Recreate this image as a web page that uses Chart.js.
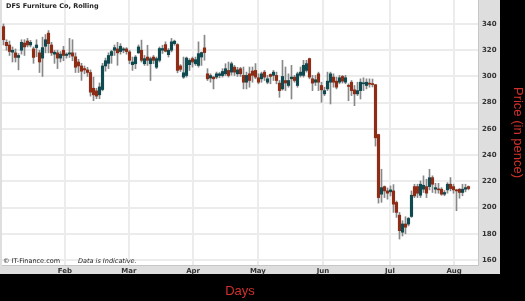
<!DOCTYPE html>
<html>
<head>
<meta charset="utf-8">
<script src="https://cdn.jsdelivr.net/npm/chart.js@4.4.0/dist/chart.umd.min.js"></script>
<style>
  html, body { margin: 0; padding: 0; background: #000; }
  canvas { display: block; }
</style>
</head>
<body>
<canvas id="chart" width="525" height="301"></canvas>
<script>
// daily candles (pence)
const opens = [338, 326, 324, 318.5, 318, 314.5, 320, 325.5, 327, 324, 321, 322, 318, 314, 323, 333, 324, 317, 318, 314,
   320, 316, 317, 318, 315, 311, 308, 306, 305, 303, 291, 289, 286, 290, 308, 310, 316, 320, 321, 319,
   320, 321, 318.7, 309, 309.7, 318, 320, 309.7, 314.8, 309.7, 314.8, 307, 312.3, 320, 324.3, 316.6, 320, 325, 324.3, 308,
   299.5, 300.7, 309, 313.6, 309.7, 308.4, 314.8, 321.8, 302, 298.8, 299.5, 299.5, 300.7, 300.7, 302, 304.6, 303.3, 307.1, 302, 305.9,
   300.8, 295.6, 302, 304.1, 304.6, 299, 298.2, 303.3, 295.6, 301.5, 300.8, 300.8, 294.9, 290.5, 296.9, 293.1, 298.2, 299.5, 293.1, 300.8,
   300.8, 304.6, 313.6, 298.2, 295.6, 302, 293.1, 286.7, 290.5, 295.6, 299.5, 296.4, 295.6, 300, 295.6, 293.1, 295.6, 289.8, 286.7, 289.2,
   294.4, 293.1, 294.9, 294, 293.7, 255.7, 210.2, 216, 212.7, 212, 212.7, 203.9, 194.2, 181.2, 187.5, 187.4, 193.2, 216, 216, 209.4,
   214, 216, 216, 222.8, 214, 214, 214, 210.2, 213.5, 217.8, 216, 213.5, 214, 211.5, 214, 216];
const highs = [340, 328, 327, 322.5, 321, 317.5, 328, 328, 329, 327.5, 322.5, 328, 320, 330, 332, 335, 326, 320, 320, 319,
   323, 318, 329, 328, 318, 313, 310, 308, 307, 305, 299.5, 291, 295, 310, 314, 318, 320, 324, 326, 325,
   322, 322, 320, 314.8, 316, 324, 327.7, 316, 323.8, 314.8, 316, 314.8, 322.5, 323.8, 326.4, 321.3, 329, 327.7, 325, 309,
   314.8, 314.8, 313.6, 314.8, 314.8, 326.4, 318.7, 331.5, 305.9, 302, 300, 303.3, 303, 305.9, 309.7, 311, 311, 308.4, 307, 307,
   307.2, 303.3, 307.2, 307.2, 309.8, 302, 303.3, 304.6, 300.8, 302, 304.6, 303.3, 296.9, 312.3, 307.2, 302, 308.5, 300.8, 303.3, 307.2,
   312.3, 312.3, 314, 300.8, 300.8, 303.3, 295.6, 291.8, 303.3, 303.3, 302, 299.5, 300.8, 300.8, 300.8, 294.4, 296.9, 293.1, 295.6, 298.2,
   299, 298.2, 298.2, 298, 294, 256, 229.2, 216.5, 215, 216.5, 217.5, 205, 196.3, 190, 193, 192.5, 212.7, 217.8, 217.8, 220.3,
   224.2, 221.6, 229.2, 224.2, 218.5, 218.5, 215.2, 213, 219, 222.9, 217.8, 214, 214.5, 217.8, 217.8, 216.5];
const lows = [324, 320, 316, 311, 311, 305, 317, 316, 322.5, 322.5, 310, 315, 303, 300, 318, 318, 316, 310, 306, 311,
   312, 314, 314.5, 312, 303, 303, 297, 302, 300, 285, 281.5, 283, 283, 289, 304, 306, 310, 316, 308.5, 317,
   318, 317, 309.7, 304.6, 305.9, 317.5, 311, 308.4, 308.4, 296.9, 309.7, 305.9, 311, 317.5, 318.7, 314.8, 318.7, 323.8, 302.8, 303.8,
   298.5, 299.5, 304.6, 307.1, 308.4, 307.1, 308.4, 312.3, 296.9, 295.6, 290.5, 298.2, 299, 299.5, 300.7, 299.5, 301, 300.7, 300, 300,
   290.5, 290.5, 291.8, 295.6, 298.2, 294.4, 295.6, 296.9, 294.4, 294.4, 296.9, 294.4, 284.1, 289.5, 289.2, 291.8, 282.8, 295.6, 291.8, 299.5,
   299.5, 303.3, 298.2, 289.2, 293.1, 289.2, 280.3, 285.4, 289.2, 279, 291.8, 290.5, 294.4, 294.9, 294.4, 281.5, 285.4, 277.7, 285.4, 282.8,
   289.2, 290.5, 291.8, 292, 246.9, 203.4, 204, 207.6, 206.4, 208.9, 196.3, 192.5, 176, 178.3, 180, 186, 192.5, 207.6, 207.6, 207.6,
   211.5, 207.6, 213.5, 211.5, 210.9, 210.9, 209.4, 209, 211, 212.7, 210.9, 197.6, 207.1, 209, 212, 213.5];
const closes = [328, 323.5, 319, 320, 314.5, 316, 326, 322.5, 324, 326, 314.5, 324, 311, 322, 328, 325, 318, 318.5, 314, 317,
   316, 317, 318, 315.5, 307, 308, 304, 305, 303, 288, 286, 285, 292, 308, 312, 316, 319, 322, 318, 323,
   321, 319, 312.3, 311, 314.8, 322.5, 312.3, 313.6, 312.3, 313.6, 312.3, 313.6, 321.3, 321.3, 319.2, 320, 326.4, 326.9, 304.6, 305.4,
   302.8, 314, 312.3, 311, 312.8, 317.4, 318.2, 318.2, 298.2, 300.7, 298.2, 302, 302, 303.8, 305.9, 300.7, 309.7, 303.3, 305, 302,
   295.6, 300.8, 296.9, 300.8, 299.5, 295.6, 302, 299.5, 298.2, 300, 303.3, 296.9, 289.2, 300, 295, 296.9, 299.5, 296.9, 302, 303.3,
   308.5, 309.8, 299.5, 294.9, 297.5, 295.6, 289.8, 289.2, 296.4, 302, 295.6, 291.8, 299, 296.4, 299, 292.4, 289.2, 286.7, 289.2, 295.6,
   294.6, 295.6, 294.1, 293.8, 253.2, 207.6, 215.2, 212.7, 211, 213.5, 202.6, 196.3, 182.4, 187.5, 185, 191.7, 209.4, 208.9, 210.9, 217.8,
   217, 211, 222.8, 217.8, 215.2, 213.5, 210.2, 211.5, 217.8, 214.5, 213.5, 212.7, 211.5, 214, 215.2, 214.5];

// x-axis: month starts sit between trading days
const monthNames = ["Feb", "Mar", "Apr", "May", "Jun", "Jul", "Aug"];
const monthPos = [20.5, 41.8, 63.2, 84.8, 106.5, 128.8, 150.2];
const priceTicks = [160, 180, 200, 220, 240, 260, 280, 300, 320, 340];

const upColor = "#0f4a50";
const downColor = "#8e2c15";
const axisTitleColor = "#d0302c";

const bodies = opens.map((o, i) => ({ x: i, y: [o, closes[i]] }));
const wicks = lows.map((l, i) => ({ x: i, y: [l, highs[i]] }));
const bodyColors = opens.map((o, i) => (closes[i] >= o ? upColor : downColor));

const panelPlugin = {
   id: "panel",
   beforeDraw(chart) {
      const { ctx, chartArea: a } = chart;
      ctx.save();
      ctx.fillStyle = "#000";
      ctx.fillRect(0, 0, chart.width, chart.height);
      ctx.fillStyle = "#dedede";
      ctx.fillRect(0, 0, chart.width - 25, chart.height - 27);
      ctx.fillStyle = "#fff";
      ctx.fillRect(a.left, a.top, a.right - a.left, a.bottom - a.top);
      ctx.strokeStyle = "#c6c6c6";
      ctx.lineWidth = 1;
      ctx.beginPath();
      ctx.moveTo(a.right + 0.5, a.top);
      ctx.lineTo(a.right + 0.5, a.bottom + 0.5);
      ctx.lineTo(a.left, a.bottom + 0.5);
      ctx.stroke();
      ctx.restore();
   },
   afterDraw(chart) {
      const { ctx, chartArea: a } = chart;
      ctx.save();
      ctx.fillStyle = "#222";
      ctx.textBaseline = "alphabetic";
      ctx.font = 'bold 6.5px "DejaVu Sans"';
      ctx.fillText("DFS Furniture Co, Rolling", a.left + 4, a.top + 7.5);
      ctx.font = '6.5px "DejaVu Sans"';
      ctx.fillText("\u00A9 IT-Finance.com", a.left + 1, a.bottom - 2);
      ctx.font = 'italic 6.5px "DejaVu Sans"';
      ctx.fillText("Data is Indicative.", a.left + 76, a.bottom - 2);
      ctx.restore();
   },
};

const tickFont = { family: "DejaVu Sans", size: 7, weight: "bold" };
const titleFont = { family: "Liberation Sans", size: 13 };

new Chart(document.getElementById("chart"), {
   type: "bar",
   data: {
      datasets: [
         {
            label: "Open/Close",
            data: bodies,
            backgroundColor: bodyColors,
            barThickness: 2.5,
            minBarLength: 1,
            grouped: false,
            order: 0,
         },
         {
            label: "High/Low",
            data: wicks,
            backgroundColor: "#888888",
            barThickness: 1,
            grouped: false,
            order: 1,
         },
      ],
   },
   options: {
      responsive: false,
      animation: false,
      devicePixelRatio: 1,
      layout: { padding: { left: 2, top: 0, right: 0, bottom: 0 } },
      plugins: { legend: { display: false }, tooltip: { enabled: false } },
      scales: {
         x: {
            type: "linear",
            min: -0.5,
            max: 158.17,
            offset: false,
            grid: { color: "#ececec", lineWidth: 2, drawTicks: false, offset: false },
            border: { display: false },
            afterBuildTicks: (s) => {
               s.ticks = monthPos.map((v) => ({ value: v }));
            },
            afterFit: (s) => {
               s.height = 36;
               s.paddingLeft = 0;
               s.paddingRight = 0;
            },
            ticks: {
               callback: (v, i) => monthNames[i],
               font: tickFont,
               color: "#333",
               padding: 2,
               maxRotation: 0,
               autoSkip: false,
            },
            title: {
               display: true,
               text: "Days",
               color: axisTitleColor,
               font: titleFont,
               padding: { top: 0, bottom: 2 },
            },
         },
         y: {
            position: "right",
            min: 156.2,
            max: 358.3,
            grid: { color: "#ececec", lineWidth: 2, drawTicks: false },
            border: { display: false },
            afterBuildTicks: (s) => {
               s.ticks = priceTicks.map((v) => ({ value: v }));
            },
            afterFit: (s) => {
               s.width = 47;
               s.paddingTop = 0;
               s.paddingBottom = 0;
            },
            ticks: { font: tickFont, color: "#333", padding: 4 },
            title: {
               display: true,
               text: "Price (in pence)",
               color: axisTitleColor,
               font: titleFont,
               padding: { top: 0, bottom: 0 },
            },
         },
      },
   },
   plugins: [panelPlugin],
});
</script>
</body>
</html>
